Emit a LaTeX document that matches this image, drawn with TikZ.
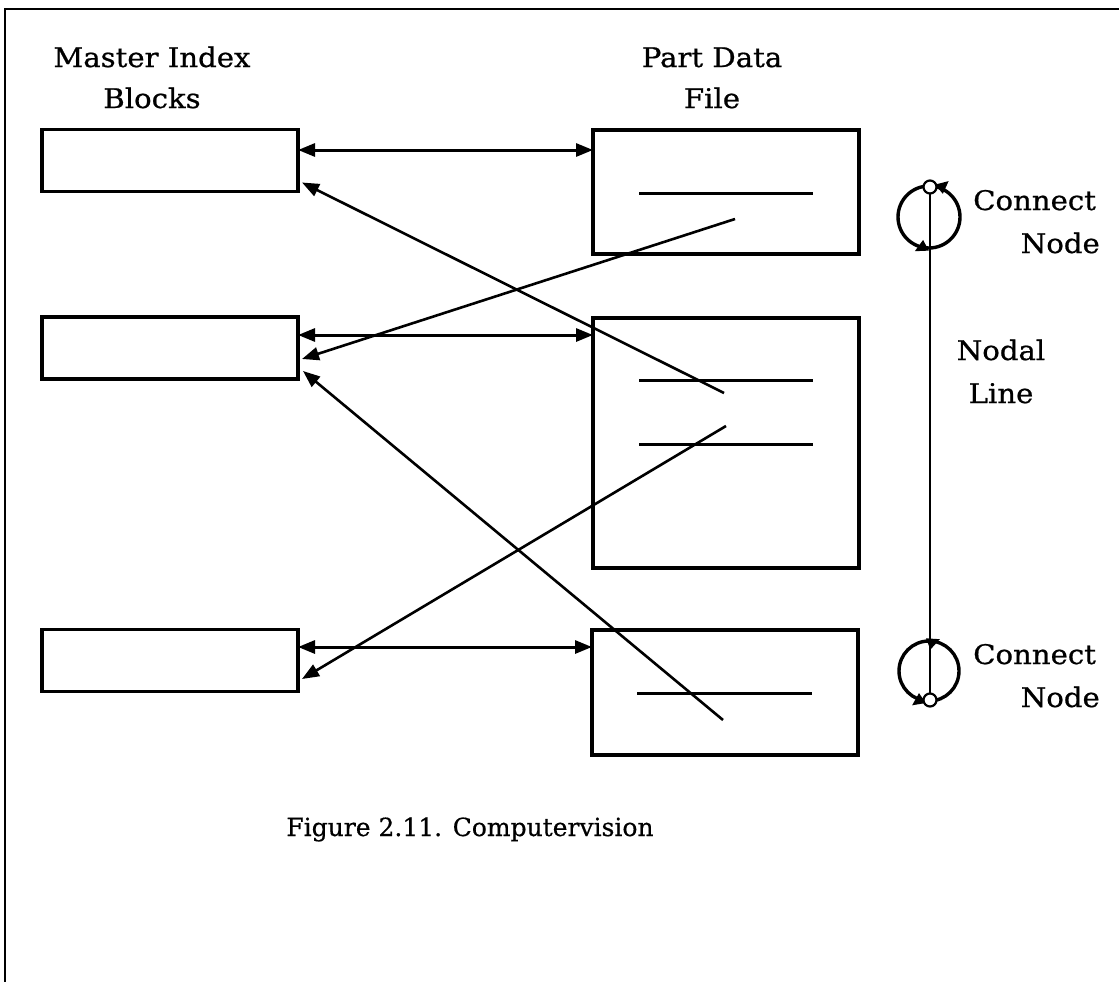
\documentclass[tikz,border=0pt]{standalone}
\usepackage{fontspec}
\setmainfont{DejaVu Serif}
\newfontfamily\labelfont[FakeStretch=1.08,FakeBold=0.8]{DejaVu Serif}
\newfontfamily\capfont[FakeBold=0.5]{DejaVu Serif}
\usetikzlibrary{arrows.meta}
\begin{document}
\begin{tikzpicture}[x=1pt,y=-1pt,
  blockbox/.style={draw,line width=3.2pt,minimum width=256pt,minimum height=62pt,inner sep=0pt,outer sep=0pt},
  filebox/.style={draw,line width=3.2pt,minimum width=266pt,inner sep=0pt,outer sep=0pt},
  entry/.style={line width=3pt},
  dbl/.style={line width=3pt,{Triangle[length=17pt,width=13pt]}-{Triangle[length=17pt,width=13pt]}},
  ptr/.style={line width=2.6pt,-{Triangle[length=17pt,width=13pt]}},
  lbl/.style={font=\labelfont\fontsize{27}{32}\selectfont,anchor=base,inner sep=0pt},
  nodecircle/.style={line width=3.4pt},
  pin/.style={draw,circle,line width=2.2pt,minimum size=13pt,inner sep=0pt,outer sep=0pt,fill=white},
  spin/.style={line width=3.4pt,-{Triangle[length=13pt,width=11pt]}}]
\useasboundingbox (0,0) rectangle (1119,982);

% page frame (top and left rules)
\draw[line width=2.4pt] (5,982) -- (5,9) -- (1119,9);

% headings
\node[lbl] (hm1) at (152,67) {Master Index};
\node[lbl] (hm2) at (152,108) {Blocks};
\node[lbl] (hp1) at (712,67) {Part Data};
\node[lbl] (hp2) at (712,108) {File};

% master index blocks
\node[blockbox] (m1) at (170,160.5) {};
\node[blockbox] (m2) at (170,348) {};
\node[blockbox] (m3) at (170,660.5) {};

% part data file records
\node[filebox,minimum height=124pt] (p1) at (726,192) {};
\node[filebox,minimum height=250pt] (p2) at (726,443) {};
\node[filebox,minimum height=125pt] (p3) at (725,692.5) {};

% entries inside the records
\draw[entry] (639,193) -- (813,193);
\draw[entry] (639,380) -- (813,380);
\draw[entry] (639,444) -- (813,444);
\draw[entry] (637,693) -- (812,693);

% two-way links between index blocks and records
\draw[dbl] ([yshift=10.5pt]m1.east) -- ([yshift=42pt]p1.west);
\draw[dbl] ([yshift=13pt]m2.east) -- ([yshift=108pt]p2.west);
\draw[dbl] ([yshift=13.5pt]m3.east) -- ([yshift=45.5pt]p3.west);

% back pointers from entries to index blocks
\coordinate (e1) at (724,393);
\coordinate (e2) at (735,219);
\coordinate (e3) at (726,426);
\coordinate (e4) at (723,720);
\draw[ptr] (e1) -- ([xshift=4pt,yshift=9pt]m1.south east);
\draw[ptr] (e2) -- ([xshift=4pt,yshift=-11pt]m2.east);
\draw[ptr] (e4) -- ([xshift=5pt,yshift=-23pt]m2.east);
\draw[ptr] (e3) -- ([xshift=4pt,yshift=-18.5pt]m3.east);

% connect nodes with their rotation arrows
\draw[nodecircle] (929,217) circle[radius=31pt];
\draw[nodecircle] (929,671) circle[radius=30pt];
\draw[spin] (929,217) ++(-75:31) arc[start angle=-75,end angle=-50,radius=31pt];
\draw[spin] (929,217) ++(95:31) arc[start angle=95,end angle=118,radius=31pt];
\draw[spin] (929,671) ++(-95:30) arc[start angle=-95,end angle=-68,radius=30pt];
\draw[spin] (929,671) ++(100:30) arc[start angle=100,end angle=125,radius=30pt];

% nodal line between the two connect nodes
\node[pin] (ntop) at (930,187) {};
\node[pin] (nbot) at (930,700) {};
\draw[line width=2.6pt] (ntop.south) -- (nbot.north);

\node[lbl,anchor=base west] (c1a) at (973,210) {Connect};
\node[lbl,anchor=base east] (c1b) at (1100,253) {Node};
\node[lbl,anchor=base west] (c2a) at (973,664) {Connect};
\node[lbl,anchor=base east] (c2b) at (1100,707) {Node};
\node[lbl] (nl1) at (1001,360) {Nodal};
\node[lbl] (nl2) at (1001,403) {Line};

% caption
\node[font=\capfont\fontsize{25}{30}\selectfont,anchor=base,inner sep=0pt] (cap) at (470,836) {Figure 2.11. Computervision};
\end{tikzpicture}
\end{document}
